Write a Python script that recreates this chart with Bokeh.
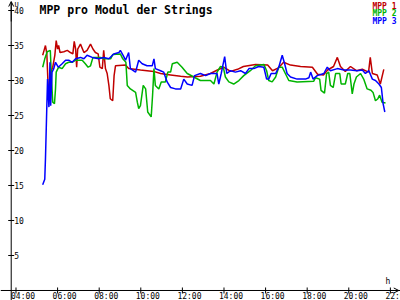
from bokeh.plotting import figure
from bokeh.models import Label, Span, Range1d, Arrow, OpenHead, ColumnDataSource
from bokeh.core.properties import value
from bokeh.embed import file_html
from bokeh.resources import INLINE

title_text = "MPP pro Modul der Strings"
series_names = ["MPP 1", "MPP 2", "MPP 3"]
series_colors = ["#c00000", "#00b400", "#0000ff"]
x_unit = "h"
y_unit = "U"

x_tick_labels = ["04:00", "06:00", "08:00", "10:00", "12:00", "14:00",
                 "16:00", "18:00", "20:00", "22:00"]
y_tick_values = [5, 10, 15, 20, 25, 30, 35, 40]

t_mpp1 = ["05:17", "05:21", "05:25", "05:29", "05:33", "05:37", "05:40", "05:46",
          "05:52", "05:56", "06:00", "06:03", "06:07", "06:18", "06:28", "06:37",
          "06:44", "06:48", "06:52", "06:55", "06:58", "07:06", "07:16", "07:25",
          "07:35", "07:42", "07:49", "07:57", "08:02", "08:09", "08:13", "08:18",
          "08:23", "08:28", "08:32", "08:39", "08:43", "08:47", "09:16", "09:25",
          "09:59", "10:37", "10:57", "11:26", "11:55", "12:15", "12:52", "13:21",
          "13:41", "13:59", "14:19", "14:39", "14:56", "15:31", "16:06", "16:20",
          "16:37", "16:52", "17:12", "17:41", "18:15", "18:30", "18:47", "18:59",
          "19:16", "19:27", "19:36", "19:50", "20:05", "20:22", "20:39", "20:57",
          "21:02", "21:08", "21:22", "21:31", "21:41"]
v_mpp1 = [33.6, 34.3, 35.0, 33.8, 28.8, 29.3, 31.2, 31.9,
          33.6, 35.7, 34.5, 35.0, 34.0, 34.1, 34.3, 34.0,
          33.8, 35.6, 34.5, 31.9, 34.5, 35.2, 34.0, 34.3,
          35.2, 34.5, 34.0, 33.8, 31.9, 31.7, 34.3, 31.7,
          31.0, 29.3, 27.4, 27.1, 30.7, 32.1, 32.2, 31.7,
          31.5, 31.3, 31.0, 30.8, 30.6, 30.5, 30.6, 31.0,
          31.5, 31.9, 31.3, 31.6, 32.0, 32.3, 32.2, 31.4,
          31.8, 32.6, 32.2, 32.0, 31.9, 30.9, 30.8, 31.5,
          32.0, 33.3, 32.0, 31.3, 32.0, 31.4, 31.6, 31.2,
          33.3, 31.0, 30.8, 29.5, 31.6]

t_mpp2 = ["05:17", "05:23", "05:30", "05:39", "05:42", "05:46", "05:51", "05:54",
          "05:56", "06:03", "06:13", "06:23", "06:32", "06:42", "06:52", "07:11",
          "07:20", "07:28", "07:35", "07:42", "08:04", "08:13", "08:33", "08:39",
          "09:01", "09:08", "09:17", "09:21", "09:30", "09:45", "09:50", "09:54",
          "09:59", "10:07", "10:14", "10:20", "10:30", "10:34", "10:38", "10:42",
          "10:52", "10:59", "11:11", "11:18", "11:26", "11:31", "11:45", "11:59",
          "12:14", "12:33", "12:52", "13:21", "13:31", "13:40", "13:50", "13:58",
          "14:04", "14:14", "14:28", "14:43", "14:57", "15:16", "15:31", "15:55",
          "16:03", "16:09", "16:19", "16:29", "16:38", "16:48", "16:57", "17:07",
          "17:31", "18:19", "18:24", "18:36", "18:40", "18:50", "18:56", "19:02",
          "19:07", "19:15", "19:22", "19:34", "19:38", "19:50", "19:57", "20:03",
          "20:10", "20:15", "20:22", "20:34", "20:43", "20:53", "21:04", "21:10",
          "21:17", "21:24", "21:29", "21:36", "21:46"]
v_mpp2 = [31.9, 33.1, 34.1, 34.3, 30.7, 26.9, 26.7, 28.8,
          31.2, 31.9, 31.7, 32.4, 32.6, 32.6, 32.9, 32.9,
          32.4, 31.9, 32.1, 33.3, 33.3, 33.1, 33.1, 33.7,
          33.8, 33.1, 32.6, 29.3, 28.8, 28.3, 26.9, 26.0,
          26.4, 29.3, 28.8, 25.5, 24.8, 27.9, 31.7, 29.3,
          28.8, 29.8, 29.8, 31.2, 31.2, 32.4, 32.6, 31.9,
          31.0, 30.5, 30.0, 30.0, 29.5, 31.2, 32.0, 31.9,
          30.5, 29.8, 29.5, 30.0, 30.7, 31.4, 32.1, 32.3,
          31.4, 30.0, 29.8, 30.5, 31.9, 31.9, 31.0, 30.0,
          29.8, 29.9, 30.4, 30.2, 28.6, 28.2, 31.0, 31.2,
          29.3, 29.0, 31.0, 31.0, 29.5, 29.5, 31.0, 31.0,
          28.1, 29.5, 30.5, 31.0, 30.2, 28.8, 28.6, 28.3,
          27.1, 27.4, 27.9, 26.9, 26.8]

t_mpp3 = ["05:17", "05:23", "05:25", "05:28", "05:31", "05:35", "05:38", "05:40",
          "05:44", "05:49", "05:54", "06:02", "06:13", "06:23", "06:32", "06:42",
          "06:52", "07:06", "07:16", "07:25", "07:40", "07:59", "08:13", "08:28",
          "08:42", "08:57", "09:01", "09:09", "09:16", "09:25", "09:30", "09:45",
          "09:54", "10:04", "10:18", "10:33", "10:38", "10:42", "10:57", "11:06",
          "11:16", "11:26", "11:40", "11:55", "12:04", "12:14", "12:28", "12:35",
          "12:52", "13:07", "13:21", "13:40", "13:45", "13:52", "14:02", "14:08",
          "14:19", "14:33", "14:48", "15:02", "15:12", "15:26", "15:40", "15:55",
          "16:03", "16:09", "16:16", "16:29", "16:38", "16:48", "16:55", "17:02",
          "17:12", "17:31", "17:55", "18:05", "18:10", "18:17", "18:29", "18:48",
          "18:58", "19:07", "19:27", "19:46", "20:05", "20:24", "20:39", "20:48",
          "20:58", "21:08", "21:17", "21:27", "21:34", "21:39", "21:44"]
v_mpp3 = [15.1, 15.9, 18.8, 24.5, 30.2, 26.2, 32.6, 26.4,
          31.2, 31.7, 32.6, 31.9, 32.4, 32.9, 32.9, 32.6,
          33.1, 33.3, 33.1, 33.6, 33.3, 33.1, 33.3, 33.1,
          33.8, 34.0, 34.3, 33.6, 32.9, 34.0, 31.7, 31.2,
          32.9, 32.4, 32.1, 32.1, 33.1, 31.7, 31.4, 31.2,
          29.8, 29.0, 28.8, 28.8, 30.2, 29.5, 29.3, 30.7,
          31.0, 30.7, 31.0, 31.0, 29.5, 31.0, 33.4, 31.0,
          31.4, 31.2, 31.4, 31.0, 31.7, 31.7, 32.0, 31.9,
          30.2, 30.2, 31.0, 31.0, 31.9, 33.6, 32.4, 31.0,
          30.5, 30.2, 30.2, 30.4, 31.2, 30.2, 30.7, 31.0,
          31.9, 31.4, 31.7, 31.5, 31.5, 31.4, 31.5, 31.0,
          31.4, 30.2, 30.0, 29.5, 29.0, 26.7, 25.5]


def to_min(s):
    h, m = s.split(":")
    return int(h) * 60 + int(m)


FONT = "DejaVu Sans Mono"
X0, X1 = 195.3, 1349.2       # minutes shown across the 400 px
Y0, Y1 = -1.43, 41.43        # volts shown across the 300 px
AXIS_X = 226.2               # position of the vertical axis (minutes)

p = figure(width=400, height=300, output_backend="svg", toolbar_location=None,
           x_range=Range1d(X0, X1), y_range=Range1d(Y0, Y1),
           x_axis_location=None, y_axis_location=None, min_border=0)
p.outline_line_color = None
p.background_fill_color = "white"
p.border_fill_color = "white"
p.xgrid.grid_line_color = None
p.ygrid.grid_line_color = None
p.grid.visible = False

# axes lines
p.add_layout(Span(location=0, dimension="width", line_color="black", line_width=1))
p.segment(x0=[AXIS_X], y0=[Y0], x1=[AXIS_X], y1=[Y1 - 0.2], line_color="black", line_width=1)
p.add_layout(Arrow(end=OpenHead(size=5, line_width=1, line_color="black"),
                   x_start=X1 - 30, y_start=0, x_end=X1 - 5, y_end=0,
                   line_width=1, line_color="black"))
p.add_layout(Arrow(end=OpenHead(size=5, line_width=1, line_color="black"),
                   x_start=AXIS_X, y_start=Y1 - 3, x_end=AXIS_X, y_end=Y1 - 0.15,
                   line_width=1, line_color="black"))

# y ticks + labels
ysrc = ColumnDataSource(dict(x=[AXIS_X] * len(y_tick_values), y=y_tick_values,
                             t=[str(v) for v in y_tick_values]))
p.scatter("x", "y", source=ysrc, marker="dash", size=6, line_color="black", line_width=1)
p.text("x", "y", text="t", source=ysrc, x_offset=3, y_offset=0,
       text_font=value(FONT), text_font_size="8px", text_align="left",
       text_baseline="middle", text_color="black")

# x ticks + labels
x_tick_min = [to_min(s) for s in x_tick_labels]
xsrc = ColumnDataSource(dict(x=x_tick_min, y=[0] * len(x_tick_min), t=x_tick_labels))
p.scatter("x", "y", source=xsrc, marker="dash", angle=1.5708, size=6,
          line_color="black", line_width=1)
p.text("x", "y", text="t", source=xsrc, x_offset=-5, y_offset=1.5,
       text_font=value(FONT), text_font_size="8px", text_align="left",
       text_baseline="top", text_color="black")

# data lines
for t, v, c in [(t_mpp1, v_mpp1, series_colors[0]),
                (t_mpp2, v_mpp2, series_colors[1]),
                (t_mpp3, v_mpp3, series_colors[2])]:
    p.line([to_min(s) for s in t], v, line_color=c, line_width=1.5)

# title and units
p.add_layout(Label(x=39, y=298, x_units="screen", y_units="screen", text=title_text,
                   text_font=FONT, text_font_size="11.5px", text_font_style="bold",
                   text_baseline="top", text_color="black"))
p.add_layout(Label(x=14, y=300, x_units="screen", y_units="screen", text=y_unit,
                   text_font=FONT, text_font_size="7px",
                   text_baseline="top", text_color="black"))
p.add_layout(Label(x=385, y=24, x_units="screen", y_units="screen", text=x_unit,
                   text_font=FONT, text_font_size="8px",
                   text_baseline="top", text_color="black"))

# legend
for i, (name, col) in enumerate(zip(series_names, series_colors)):
    p.add_layout(Label(x=396, y=299 - i * 7.5, x_units="screen", y_units="screen",
                       text=name, text_font=FONT, text_font_size="8px",
                       text_font_style="bold", text_align="right",
                       text_baseline="top", text_color=col))

open("out.html", "w").write(file_html(p, INLINE))
